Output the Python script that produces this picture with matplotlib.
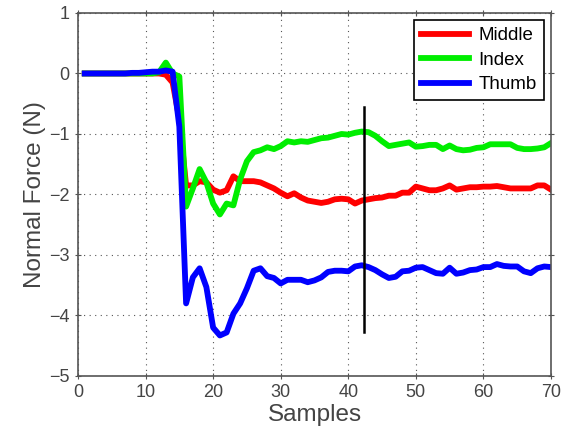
import numpy as np
import matplotlib
matplotlib.use('Agg')
import matplotlib.pyplot as plt

plt.rcParams['font.family'] = ['Liberation Sans', 'DejaVu Sans']

samples = np.arange(1, 71)

middle = [0, 0, 0, 0, 0, 0, 0, 0, 0, 0, 0, 0, -0.02, -0.15, -0.75,
          -1.85, -1.85, -1.78, -1.8, -1.92, -1.97, -1.93, -1.7, -1.78, -1.78,
          -1.78, -1.8, -1.85, -1.9, -1.97, -2.03, -1.98, -2.05, -2.1, -2.12,
          -2.14, -2.12, -2.08, -2.07, -2.08, -2.15, -2.1, -2.08, -2.06, -2.05,
          -2.02, -2.02, -1.97, -1.97, -1.87, -1.9, -1.93, -1.93, -1.9, -1.85,
          -1.92, -1.9, -1.88, -1.88, -1.87, -1.87, -1.86, -1.88, -1.9, -1.9,
          -1.9, -1.9, -1.85, -1.85, -1.92]

index = [0, 0, 0, 0, 0, 0, 0, 0, 0, 0, 0, 0.02, 0.18, 0.0, -0.05,
         -2.2, -1.9, -1.58, -1.8, -2.15, -2.33, -2.15, -2.18, -1.75, -1.45,
         -1.3, -1.27, -1.22, -1.25, -1.2, -1.12, -1.14, -1.12, -1.13, -1.1,
         -1.07, -1.06, -1.03, -1.0, -1.01, -0.98, -0.96, -0.97, -1.03, -1.12,
         -1.2, -1.18, -1.16, -1.14, -1.21, -1.2, -1.18, -1.18, -1.25, -1.19,
         -1.25, -1.27, -1.26, -1.23, -1.22, -1.17, -1.17, -1.17, -1.17, -1.23,
         -1.25, -1.25, -1.24, -1.22, -1.15]

thumb = [0, 0, 0, 0, 0, 0, 0, 0.01, 0.01, 0.02, 0.03, 0.03, 0.05, 0.03, -0.88,
         -3.8, -3.37, -3.22, -3.53, -4.2, -4.33, -4.28, -3.97, -3.8, -3.55,
         -3.26, -3.22, -3.35, -3.38, -3.47, -3.41, -3.41, -3.41, -3.45, -3.42,
         -3.37, -3.28, -3.26, -3.26, -3.27, -3.19, -3.17, -3.2, -3.25, -3.32,
         -3.38, -3.36, -3.27, -3.26, -3.21, -3.2, -3.25, -3.3, -3.31, -3.21,
         -3.31, -3.29, -3.25, -3.24, -3.2, -3.2, -3.15, -3.18, -3.19, -3.19,
         -3.27, -3.3, -3.22, -3.19, -3.2]

marker_x = 42.4
marker_y = [-0.55, -4.28]

fig = plt.figure(figsize=(5.63, 4.37), dpi=100)
ax = fig.add_axes([0.1385, 0.1396, 0.8402, 0.8307])

ax.plot(samples, middle, color='#ff0000', lw=4.2, label='Middle')
ax.plot(samples, index, color='#00ee00', lw=4.2, label='Index')
ax.plot(samples, thumb, color='#0000ff', lw=4.2, label='Thumb')
ax.plot([marker_x, marker_x], marker_y, color='black', lw=1.8)

ax.set_xlim(0, 70)
ax.set_ylim(-5, 1)
ax.set_xticks(range(0, 71, 10))
ax.set_yticks(range(-5, 2))
ax.grid(True, color='#555555', linestyle=(0, (1, 4)), linewidth=0.8)

for s in ax.spines.values():
    s.set_color('#555555')
    s.set_linewidth(1.2)
ax.tick_params(direction='inout', length=5, colors='#555555', labelsize=13,
               labelcolor='#444444', top=True, right=True)

ax.set_xlabel('Samples', fontsize=17.5, color='#444444', labelpad=2)
ax.set_ylabel('Normal Force (N)', fontsize=17.5, color='#444444', labelpad=2)

leg = ax.legend(loc='upper right', fontsize=13.5, fancybox=False, framealpha=1,
                edgecolor='black', handlelength=2.6, handletextpad=0.5,
                borderpad=0.35, labelspacing=0.4, borderaxespad=0.4)
leg.get_frame().set_linewidth(1.2)

fig.savefig('out.png', dpi=100)
